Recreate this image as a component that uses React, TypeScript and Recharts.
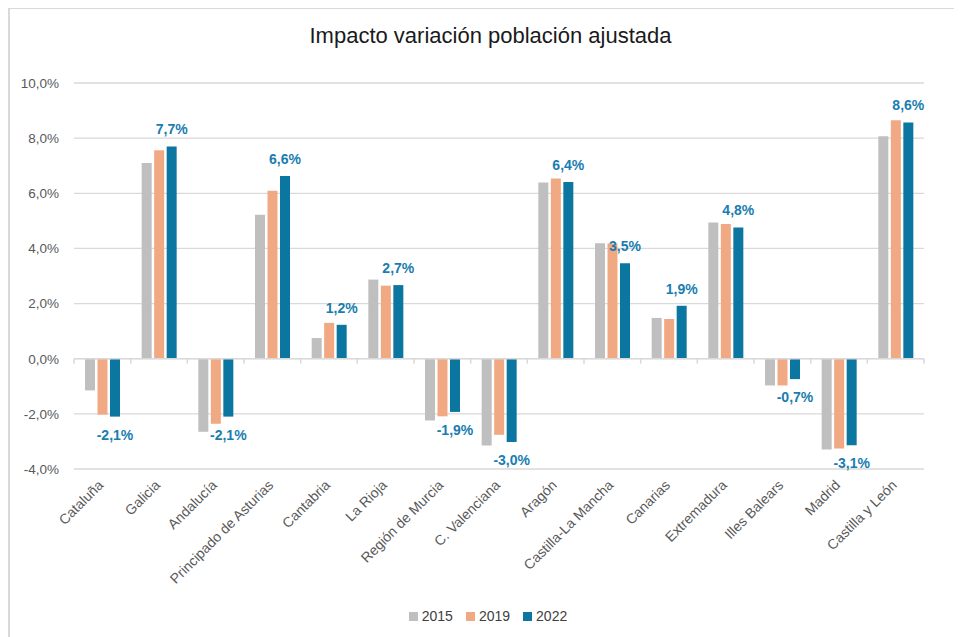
import { BarChart, Bar, XAxis, YAxis, CartesianGrid, Legend, LabelList, ReferenceLine } from 'recharts';

const regions = [
  'Cataluña',
  'Galicia',
  'Andalucía',
  'Principado de Asturias',
  'Cantabria',
  'La Rioja',
  'Región de Murcia',
  'C. Valenciana',
  'Aragón',
  'Castilla-La Mancha',
  'Canarias',
  'Extremadura',
  'Illes Balears',
  'Madrid',
  'Castilla y León',
];

// % values
const v2015 = [-1.15, 7.1, -2.65, 5.22, 0.75, 2.87, -2.24, -3.15, 6.39, 4.19, 1.48, 4.94, -0.97, -3.29, 8.07];
const v2019 = [-2.03, 7.56, -2.36, 6.09, 1.3, 2.65, -2.09, -2.76, 6.54, 4.18, 1.44, 4.89, -0.97, -3.26, 8.65];
const v2022 = [-2.1, 7.7, -2.1, 6.63, 1.23, 2.67, -1.93, -3.02, 6.41, 3.46, 1.92, 4.76, -0.74, -3.14, 8.57];

const yTicks = [-4, -2, 0, 2, 4, 6, 8, 10];

const series = [
  { key: 'y2015', name: '2015', color: '#BFBFBF' },
  { key: 'y2019', name: '2019', color: '#F1A983' },
  { key: 'y2022', name: '2022', color: '#0B76A0' },
];

const data = regions.map((name, i) => ({
  name,
  y2015: v2015[i],
  y2019: v2019[i],
  y2022: v2022[i],
}));

const font = '"Liberation Sans", Arial, sans-serif';
const pct = (v: number) => v.toFixed(1).replace('.', ',') + '%';

const XTick = ({ x, y, payload }: any) => (
  <text
    x={x + 2}
    y={y + 17}
    transform={`rotate(-45, ${x + 2}, ${y + 17})`}
    textAnchor="end"
    fontSize={14}
    fill="#595959"
    fontFamily={font}
  >
    {payload.value}
  </text>
);

const ValueLabel = ({ x, y, width, height, value }: any) => {
  const top = Math.min(y, y + height);
  const bottom = Math.max(y, y + height);
  const ty = value >= 0 ? top - 12 : bottom + 23;
  return (
    <text x={x + width / 2} y={ty} textAnchor="middle" fontSize={14} fontWeight="bold" fill="#197DB0" fontFamily={font}>
      {pct(value)}
    </text>
  );
};

// zero line with Excel-style tick marks at category boundaries
const ZeroAxis = (p: any) => {
  const n = regions.length;
  const step = (p.x2 - p.x1) / n;
  return (
    <g>
      <line x1={p.x1} y1={p.y1} x2={p.x2} y2={p.y2} stroke="#D9D9D9" strokeWidth={1.5} />
      {Array.from({ length: n + 1 }, (_, i) => (
        <line key={i} x1={p.x1 + i * step} y1={p.y1} x2={p.x1 + i * step} y2={p.y1 + 5} stroke="#D9D9D9" strokeWidth={1.5} />
      ))}
    </g>
  );
};

const renderLegend = () => (
  <div
    style={{
      display: 'flex',
      justifyContent: 'center',
      alignItems: 'center',
      height: 20,
      paddingLeft: 17,
      fontFamily: font,
      fontSize: 14,
      color: '#404040',
    }}
  >
    {series.map((s) => (
      <span key={s.key} style={{ display: 'flex', alignItems: 'center', marginRight: 13 }}>
        <span style={{ width: 9, height: 9, background: s.color, marginRight: 4 }} />
        {s.name}
      </span>
    ))}
  </div>
);

export default function App() {
  return (
    <div
      style={{
        position: 'relative',
        width: 954,
        height: 630,
        marginTop: -1,
        borderTop: '2px solid #D9D9D9',
        borderLeft: '2px solid #D9D9D9',
        boxSizing: 'border-box',
        overflow: 'hidden',
        background: '#fff',
      }}
    >
      <div
        style={{
          position: 'absolute',
          top: 14,
          left: 0,
          width: 961,
          textAlign: 'center',
          fontFamily: font,
          fontSize: 22,
          color: '#1A1A1A',
        }}
      >
        Impacto variación población ajustada
      </div>
      <BarChart
        width={952}
        height={628}
        data={data}
        margin={{ top: 74, right: 38, left: 0, bottom: 11 }}
        barSize={10}
        barGap={2.5}
      >
        <CartesianGrid vertical={false} stroke="#D9D9D9" strokeWidth={1.3} />
        <XAxis
          dataKey="name"
          interval={0}
          height={137}
          axisLine={false}
          tickLine={false}
          tickSize={0}
          tickMargin={0}
          tick={<XTick />}
        />
        <YAxis
          width={64}
          domain={[-4, 10]}
          ticks={yTicks}
          tickFormatter={pct}
          axisLine={false}
          tickLine={false}
          tickSize={0}
          tickMargin={15}
          tick={{ fontSize: 13.5, fill: '#595959', fontFamily: font }}
        />
        <Legend verticalAlign="bottom" content={renderLegend} wrapperStyle={{ left: 0, width: 952 }} />
        {series.map((s) => (
          <Bar key={s.key} dataKey={s.key} name={s.name} fill={s.color} isAnimationActive={false}>
            {s.key === 'y2022' && <LabelList dataKey={s.key} content={<ValueLabel />} />}
          </Bar>
        ))}
        <ReferenceLine y={0} shape={<ZeroAxis />} />
      </BarChart>
    </div>
  );
}
